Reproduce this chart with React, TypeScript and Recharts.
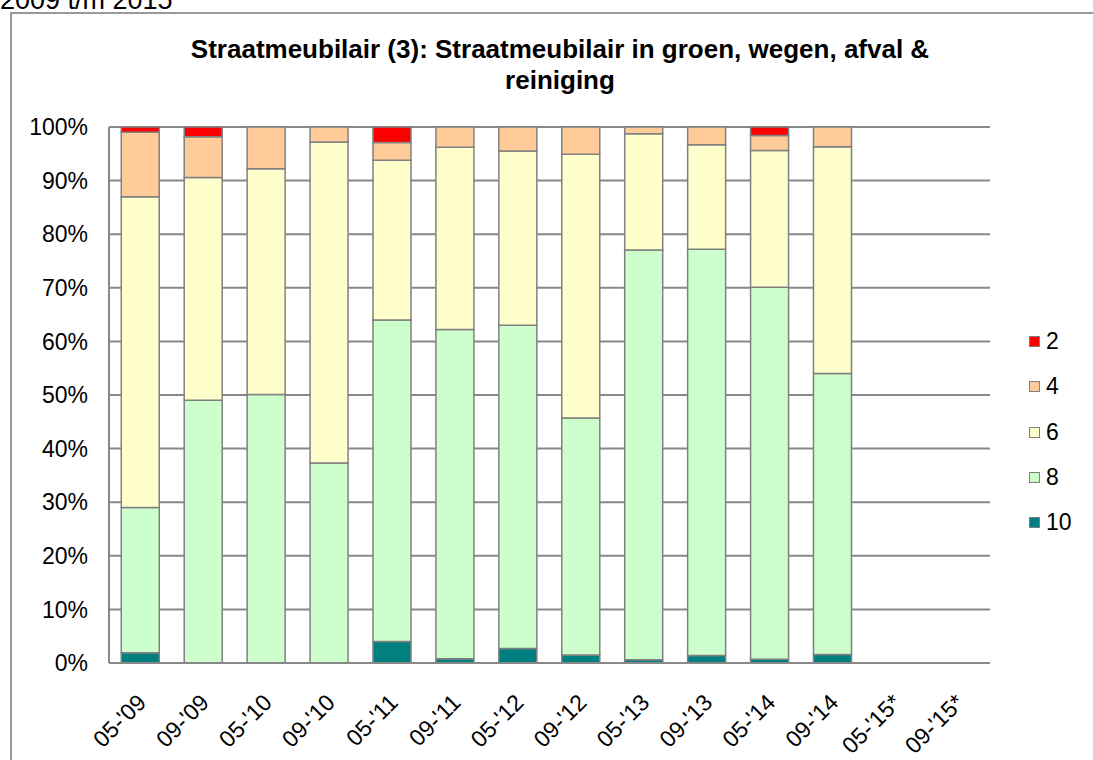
import React from 'react';
import { BarChart, Bar, XAxis, YAxis, CartesianGrid } from 'recharts';

const categories = ["05-'09", "09-'09", "05-'10", "09-'10", "05-'11", "09-'11", "05-'12", "09-'12", "05-'13", "09-'13", "05-'14", "09-'14", "05-'15*", "09-'15*"];

const s10 = [1.9, 0, 0, 0, 4.0, 0.8, 2.7, 1.5, 0.6, 1.4, 0.7, 1.6, null, null];
const s8 = [27.1, 49.0, 50.1, 37.3, 60.0, 61.4, 60.3, 44.2, 76.45, 75.8, 69.4, 52.4, null, null];
const s6 = [58.0, 41.6, 42.1, 59.9, 29.8, 34.0, 32.5, 49.2, 21.7, 19.5, 25.5, 42.3, null, null];
const s4 = [12.0, 7.6, 7.8, 2.8, 3.3, 3.8, 4.5, 5.1, 1.25, 3.3, 2.8, 3.7, null, null];
const s2 = [1.0, 1.8, 0, 0, 2.9, 0, 0, 0, 0, 0, 1.6, 0, null, null];

const yTicks = [0, 10, 20, 30, 40, 50, 60, 70, 80, 90, 100];

const series = [
  { key: 's10', name: '10', color: '#008080' },
  { key: 's8', name: '8', color: '#CCFFCC' },
  { key: 's6', name: '6', color: '#FFFFCC' },
  { key: 's4', name: '4', color: '#FFCC99' },
  { key: 's2', name: '2', color: '#FF0000' },
];

const data = categories.map((c, i) => ({
  name: c,
  s10: s10[i],
  s8: s8[i],
  s6: s6[i],
  s4: s4[i],
  s2: s2[i],
}));

const FONT = '"Liberation Sans", Arial, sans-serif';

const XTick = ({ x, y, payload }: { x: number; y: number; payload: { value: string } }) => (
  <g transform={`translate(${x + 7},${y + 33})`}>
    <text x={0} y={0} textAnchor="end" transform="rotate(-45)" fontSize={23} fill="#000" fontFamily={FONT}>
      {payload.value}
    </text>
  </g>
);

// legend lists top series first, like the original
function LegendBox() {
  return (
    <div style={{ position: 'absolute', left: 1029, top: 319, fontFamily: FONT, fontSize: 23 }}>
      {[...series].reverse().map((s) => (
        <div key={s.key} style={{ display: 'flex', alignItems: 'center', height: 45.3 }}>
          <span style={{ width: 9, height: 9, background: s.color, border: '1.5px solid #808080', marginRight: 6 }} />
          <span>{s.name}</span>
        </div>
      ))}
    </div>
  );
}

export default function App() {
  return (
    <div style={{ position: 'absolute', left: 0, top: 0, width: 1093, height: 760, overflow: 'hidden', background: '#fff', fontFamily: FONT }}>
      <div style={{ position: 'absolute', left: 0, top: -13, fontSize: 27, lineHeight: '27px', color: '#000', whiteSpace: 'nowrap' }}>2009 t/m 2015</div>
      <div style={{ position: 'absolute', left: 10, top: 12, width: 1100, height: 760, borderLeft: '2px solid #999', borderTop: '2px solid #999' }} />
      <div style={{ position: 'absolute', left: 130, width: 860, top: 34, textAlign: 'center', fontWeight: 'bold', fontSize: 26, lineHeight: '31px', color: '#000' }}>
        Straatmeubilair (3): Straatmeubilair in groen, wegen, afval &amp;<br />reiniging
      </div>
      <div style={{ position: 'absolute', left: 0, top: 0 }}>
        <BarChart width={1093} height={760} data={data} margin={{ top: 127, right: 103, bottom: 0, left: 0 }} barCategoryGap="19.5%">
          <CartesianGrid horizontal vertical={false} stroke="#888" strokeWidth={2} />
          <XAxis dataKey="name" interval={0} tick={XTick as any} tickLine={false} axisLine={{ stroke: '#888', strokeWidth: 2 }} height={97} />
          <YAxis
            domain={[0, 100]}
            ticks={yTicks}
            width={109}
            tickLine={false}
            tickSize={0}
            tickMargin={21}
            axisLine={{ stroke: '#888', strokeWidth: 2 }}
            tickFormatter={(v) => `${v}%`}
            tick={{ fontSize: 23, fill: '#000', fontFamily: FONT }}
          />
          {series.map((s) => (
            <Bar key={s.key} dataKey={s.key} name={s.name} stackId="a" fill={s.color} stroke="#808080" strokeWidth={1.5} isAnimationActive={false} />
          ))}
        </BarChart>
      </div>
      <LegendBox />
    </div>
  );
}
